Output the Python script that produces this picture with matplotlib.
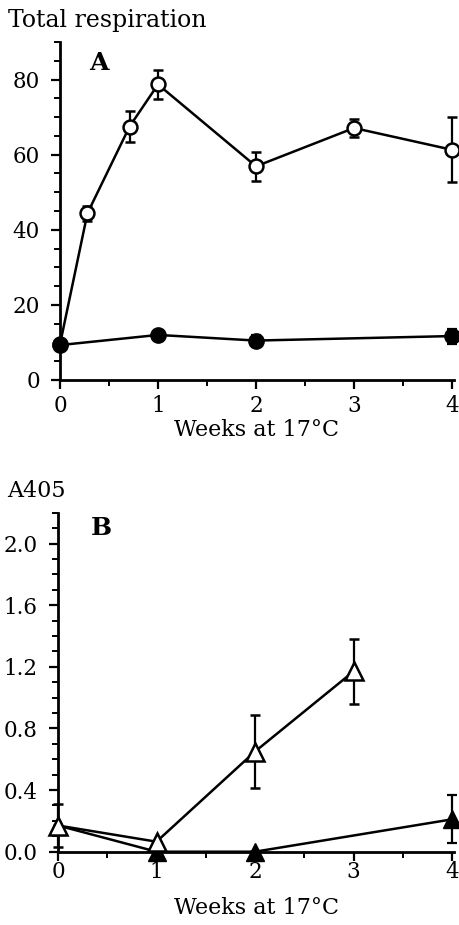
import matplotlib
matplotlib.use("Agg")
import matplotlib.pyplot as plt
from matplotlib.ticker import MultipleLocator, FormatStrFormatter

plt.rcParams['font.family'] = ['DejaVu Serif', 'Liberation Serif']

# Panel A: total respiration
weeks_open_a = [0, 0.28, 0.71, 1, 2, 3, 4]
resp_open = [9.5, 44.4, 67.5, 78.7, 56.9, 67.1, 61.3]
resp_open_err = [1.0, 2.0, 4.0, 3.8, 3.8, 2.3, 8.7]
weeks_fill_a = [0, 1, 2, 4]
resp_fill = [9.3, 12.0, 10.5, 11.7]
resp_fill_err = [1.0, 1.0, 1.5, 2.0]

# Panel B: A405
weeks_open_b = [0, 1, 2, 3]
a405_open = [0.17, 0.065, 0.65, 1.17]
a405_open_err = [0.14, 0.0, 0.235, 0.21]
weeks_fill_b = [0, 1, 2, 4]
a405_fill = [0.17, 0.0, 0.0, 0.21]
a405_fill_err = [0.0, 0.0, 0.0, 0.155]

W, H = 460, 925
fig = plt.figure(figsize=(W/100, H/100), dpi=100)
axA = fig.add_axes([60/W, 1-380/H, 394/W, 338/H])
axB = fig.add_axes([58/W, 1-851.7/H, 396/W, 339/H])

lw = 1.8
fs = 15.5

def style(ax, ymax, major, minor, fmt, xpad, labelpad):
    for s in ['top', 'right']:
        ax.spines[s].set_visible(False)
    for s in ['left', 'bottom']:
        ax.spines[s].set_linewidth(2)
    ax.set_xlim(0, 4.02)
    ax.set_ylim(0, ymax)
    ax.xaxis.set_major_locator(MultipleLocator(1))
    ax.xaxis.set_minor_locator(MultipleLocator(0.5))
    ax.yaxis.set_major_locator(MultipleLocator(major))
    ax.yaxis.set_minor_locator(MultipleLocator(minor))
    ax.tick_params(which='major', direction='out', length=6.5, width=1.6, labelsize=fs)
    ax.tick_params(which='minor', direction='out', length=4.5, width=1.4)
    ax.tick_params(axis='y', which='major', pad=8)
    ax.tick_params(axis='x', which='major', pad=xpad)
    if fmt:
        ax.yaxis.set_major_formatter(fmt)
    ax.set_xlabel('Weeks at 17°C', fontsize=16, labelpad=labelpad)

# Panel A
axA.errorbar(weeks_open_a, resp_open, yerr=resp_open_err, color='black', lw=lw,
             marker='o', ms=10, mfc='white', mec='black', mew=1.8,
             capsize=3.5, capthick=1.6, elinewidth=1.6, clip_on=False, zorder=3)
axA.errorbar(weeks_fill_a, resp_fill, yerr=resp_fill_err, color='black', lw=lw,
             marker='o', ms=11, mfc='black', mec='black',
             capsize=3.5, capthick=1.6, elinewidth=1.6, clip_on=False, zorder=4)
style(axA, 90, 20, 5, None, xpad=4, labelpad=2)
axA.text(0.074, 0.972, 'A', transform=axA.transAxes, fontsize=18, fontweight='bold', va='top')
fig.text(8/W, 1-27/H, 'Total respiration', fontsize=17, ha='left', va='baseline')

# Panel B
axB.errorbar(weeks_fill_b, a405_fill, yerr=a405_fill_err, color='black', lw=lw,
             marker='^', ms=13, mfc='black', mec='black',
             capsize=3.5, capthick=1.6, elinewidth=1.6, clip_on=False, zorder=3)
axB.errorbar(weeks_open_b, a405_open, yerr=a405_open_err, color='black', lw=lw,
             marker='^', ms=13, mfc='white', mec='black', mew=1.8,
             capsize=3.5, capthick=1.6, elinewidth=1.6, clip_on=False, zorder=4)
style(axB, 2.2, 0.4, 0.1, FormatStrFormatter('%.1f'), xpad=0, labelpad=10)
axB.text(0.084, 0.99, 'B', transform=axB.transAxes, fontsize=18, fontweight='bold', va='top')
fig.text(7/W, 1-497/H, 'A405', fontsize=16, ha='left', va='baseline')

fig.savefig('out.png', dpi=100)
